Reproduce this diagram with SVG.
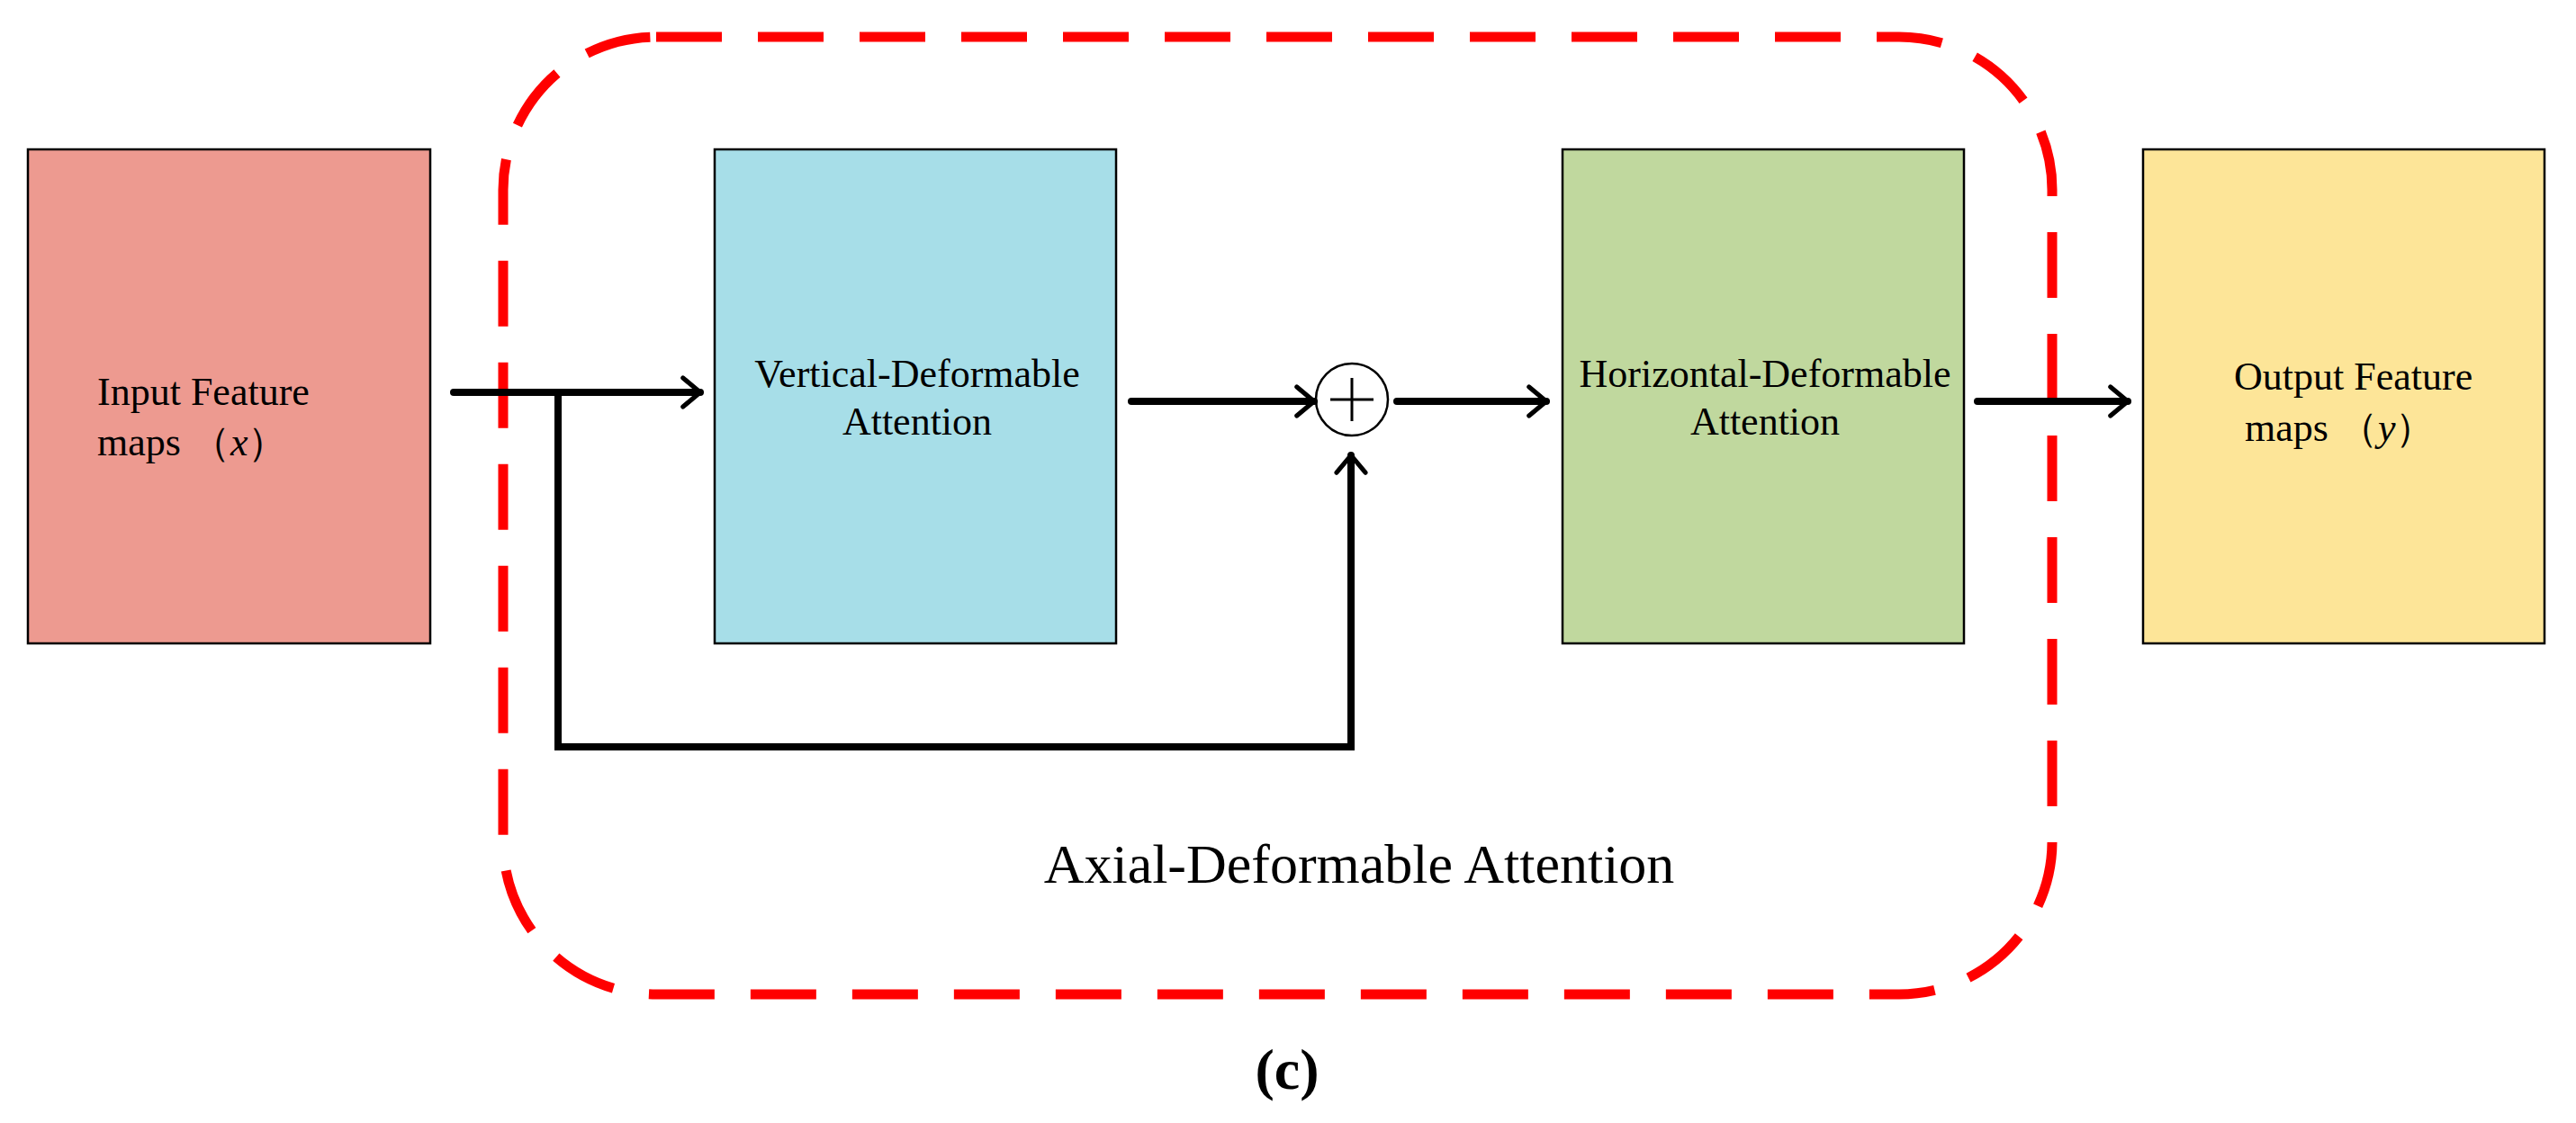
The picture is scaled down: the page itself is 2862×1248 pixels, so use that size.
<svg xmlns="http://www.w3.org/2000/svg" width="2862" height="1248" viewBox="0 0 2862 1248">
<style>
.box{stroke:#000;stroke-width:2.5}
.t{font-family:"Liberation Serif",serif;font-size:44px;fill:#000}
.c{stroke:#000;stroke-width:8;fill:none;stroke-linecap:round;stroke-linejoin:miter}
</style>
<defs>
<marker id="ah" viewBox="0 0 10 10" refX="9" refY="5" markerWidth="4" markerHeight="6" markerUnits="strokeWidth" orient="auto" overflow="visible">
<path d="M3,0 L9,5 L3,10" fill="none" stroke="#000" stroke-width="1.6" stroke-linecap="round"/>
</marker>
</defs>
<rect x="0" y="0" width="2862" height="1248" fill="#fff"/>
<g id="group">
<rect x="559" y="41" width="1721" height="1064" rx="170" ry="170" fill="none" stroke="#FF0000" stroke-width="11" stroke-dasharray="73 40"/>
<text x="1510" y="981" class="t" font-size="62" text-anchor="middle" style="font-size:62px">Axial-Deformable Attention</text>
</g>
<g id="input">
<rect class="box" x="31" y="166" width="447" height="549" fill="#ED9A90"/>
<text class="t" x="108" y="450">Input Feature</text>
<text class="t" x="108" y="506">maps （<tspan font-style="italic">x</tspan>）</text>
</g>
<g id="vertical">
<rect class="box" x="794" y="166" width="446" height="549" fill="#A7DEE8"/>
<text class="t" x="1019" y="430" text-anchor="middle">Vertical-Deformable</text>
<text class="t" x="1019" y="483" text-anchor="middle">Attention</text>
</g>
<g id="sum">
<circle cx="1502" cy="444" r="40" fill="#fff" stroke="#000" stroke-width="2.5"/>
<path d="M1502,420 V468 M1478,444 H1526" stroke="#000" stroke-width="3"/>
</g>
<g id="horizontal">
<rect class="box" x="1736" y="166" width="446" height="549" fill="#C0D89E"/>
<text class="t" x="1961" y="430" text-anchor="middle">Horizontal-Deformable</text>
<text class="t" x="1961" y="483" text-anchor="middle">Attention</text>
</g>
<g id="output">
<rect class="box" x="2381" y="166" width="446" height="549" fill="#FDE598"/>
<text class="t" x="2482" y="433">Output Feature</text>
<text class="t" x="2494" y="490">maps （<tspan font-style="italic">y</tspan>）</text>
</g>
<g id="connectors">
<path class="c" d="M504,436 H778" marker-end="url(#ah)"/>
<path class="c" d="M620,436 V830 H1501 V506" marker-end="url(#ah)"/>
<path class="c" d="M1257,446 H1460" marker-end="url(#ah)"/>
<path class="c" d="M1552,446 H1718" marker-end="url(#ah)"/>
<path class="c" d="M2197,446 H2364" marker-end="url(#ah)"/>
</g>
<text x="1430" y="1210" font-family="Liberation Serif,serif" font-weight="bold" font-size="64" text-anchor="middle">(c)</text>
</svg>
